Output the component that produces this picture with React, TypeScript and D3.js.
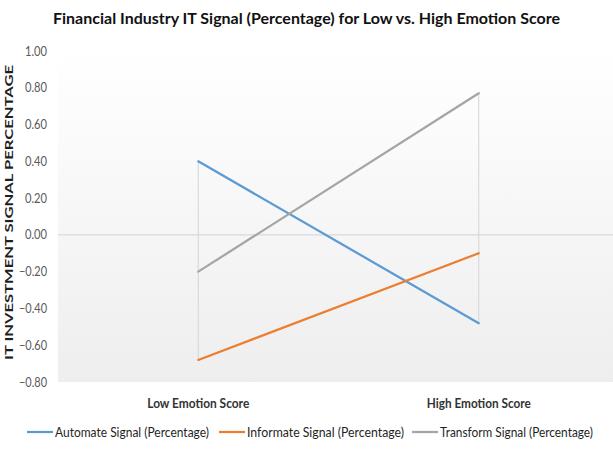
import React from "react";
import * as d3 from "d3";

// Chart data
const categories: string[] = ["Low Emotion Score", "High Emotion Score"];
const automateSignal: number[] = [0.4, -0.48];
const informateSignal: number[] = [-0.68, -0.1];
const transformSignal: number[] = [-0.2, 0.77];
const seriesNames: string[] = [
  "Automate Signal (Percentage)",
  "Informate Signal (Percentage)",
  "Transform Signal (Percentage)",
];
const yTicks: number[] = [1.0, 0.8, 0.6, 0.4, 0.2, 0.0, -0.2, -0.4, -0.6, -0.8];

const W = 613;
const H = 451;
const FONT = "Lato, 'Open Sans', 'DejaVu Sans', sans-serif";

export default function App() {
  const plot = { left: 58, right: 619, top: 51, bottom: 382 };

  const x = d3
    .scaleBand<string>()
    .domain(categories)
    .range([plot.left, plot.right])
    .padding(0);
  const cx = (c: string) => (x(c) ?? 0) + x.bandwidth() / 2;

  const y = d3.scaleLinear().domain([-0.8, 1.0]).range([plot.bottom, plot.top]);

  const series = [
    { name: seriesNames[0], values: automateSignal, color: "#5b9bd5", legendX: 27, textLen: 154 },
    { name: seriesNames[1], values: informateSignal, color: "#ed7d31", legendX: 219, textLen: 157 },
    { name: seriesNames[2], values: transformSignal, color: "#a5a5a5", legendX: 412, textLen: 153 },
  ];

  const line = d3
    .line<number>()
    .x((_, i) => cx(categories[i]))
    .y((v) => y(v));

  // high-low connector per category
  const hiLo = categories.map((c, i) => {
    const vals = series.map((s) => s.values[i]);
    return { c, hi: d3.max(vals) as number, lo: d3.min(vals) as number };
  });

  return (
    <svg
      width={W}
      height={H}
      style={{ position: "absolute", left: 0, top: 0, display: "block" }}
      fontFamily={FONT}
    >
      <defs>
        <linearGradient id="plotBg" x1="0" y1="0" x2="0" y2="1">
          <stop offset="0%" stopColor="#ffffff" />
          <stop offset="100%" stopColor="#eeeeee" />
        </linearGradient>
      </defs>
      <rect x={0} y={0} width={W} height={H} fill="#ffffff" />
      <rect
        x={plot.left}
        y={plot.top}
        width={plot.right - plot.left}
        height={plot.bottom - plot.top}
        fill="url(#plotBg)"
      />

      {/* title */}
      <text
        x={306.5}
        y={23.5}
        textAnchor="middle"
        fontSize={15.5}
        fontWeight="bold"
        fill="#111111"
        textLength={507}
        lengthAdjust="spacingAndGlyphs"
      >
        Financial Industry IT Signal (Percentage) for Low vs. High Emotion Score
      </text>

      {/* zero line */}
      <line
        x1={plot.left}
        x2={plot.right}
        y1={y(0)}
        y2={y(0)}
        stroke="#d9d9d9"
        strokeWidth={1.25}
      />

      {/* y tick labels */}
      {yTicks.map((t) => (
        <text
          key={t}
          x={47}
          y={y(t) + 4.5}
          textAnchor="end"
          fontSize={12.5}
          fill="#595959"
          textLength={t < 0 ? 28 : 22}
          lengthAdjust="spacingAndGlyphs"
        >
          {d3.format(".2f")(t)}
        </text>
      ))}

      {/* y axis title */}
      <text
        transform={`translate(13, 212.5) rotate(-90)`}
        textAnchor="middle"
        fontSize={11}
        fontWeight="bold"
        fill="#1f1f1f"
        textLength={295}
        lengthAdjust="spacingAndGlyphs"
      >
        IT INVESTMENT SIGNAL PERCENTAGE
      </text>

      {/* high-low lines */}
      {hiLo.map((h) => (
        <line
          key={h.c}
          x1={cx(h.c)}
          x2={cx(h.c)}
          y1={y(h.hi)}
          y2={y(h.lo)}
          stroke="#d4d4d4"
          strokeWidth={1}
        />
      ))}

      {/* series lines */}
      {series.map((s) => (
        <path
          key={s.name}
          d={line(s.values) ?? ""}
          fill="none"
          stroke={s.color}
          strokeWidth={2.25}
          strokeLinecap="round"
        />
      ))}

      {/* category labels */}
      {categories.map((c) => (
        <text
          key={c}
          x={cx(c)}
          y={407.5}
          textAnchor="middle"
          fontSize={12.5}
          fontWeight="bold"
          fill="#333333"
          textLength={c.startsWith("Low") ? 102 : 104}
          lengthAdjust="spacingAndGlyphs"
        >
          {c}
        </text>
      ))}

      {/* legend */}
      {series.map((s) => (
        <g key={s.name}>
          <line
            x1={s.legendX}
            x2={s.legendX + 26}
            y1={432}
            y2={432}
            stroke={s.color}
            strokeWidth={2.25}
          />
          <text
            x={s.legendX + 28}
            y={436.5}
            fontSize={12.5}
            fill="#1f1f1f"
            textLength={s.textLen}
            lengthAdjust="spacingAndGlyphs"
          >
            {s.name}
          </text>
        </g>
      ))}
    </svg>
  );
}
